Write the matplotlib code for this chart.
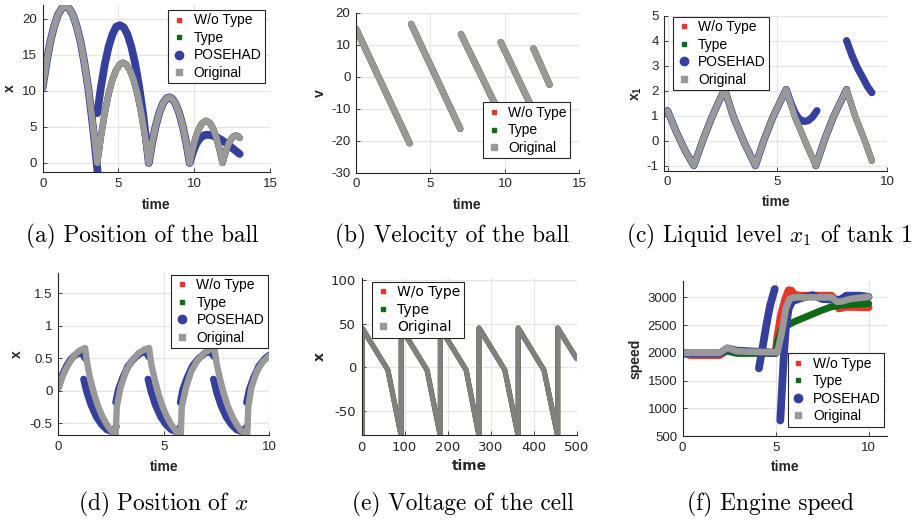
import numpy as np
import matplotlib
matplotlib.use('Agg')
import matplotlib.pyplot as plt
import matplotlib.ticker as ticker
from matplotlib.lines import Line2D

nan = np.nan

# -- (a) position of the ball
a_t_orig = [0, 0.25, 0.5, 0.75, 1.0, 1.25, 1.5, 1.75, 2.0, 2.25, 2.5, 2.75, 3.0, 3.25, 3.4, 3.6,
            3.85, 4.1, 4.35, 4.6, 4.85, 5.1, 5.3, 5.5, 5.75, 6.0, 6.25, 6.5, 6.75, 7.0,
            7.2, 7.45, 7.7, 7.95, 8.2, 8.35, 8.5, 8.75, 9.0, 9.25, 9.5, 9.7,
            9.9, 10.1, 10.3, 10.5, 10.78, 11.05, 11.25, 11.45, 11.65, 11.87,
            12.0, 12.15, 12.3, 12.45, 12.6, 12.75, 12.9, 13.0]
a_x_orig = [10.5, 13.9, 16.8, 18.9, 20.5, 21.4, 21.75, 21.4, 20.5, 18.9, 16.8, 13.9, 10.5, 6.4, 3.7, 0,
            3.8, 7.0, 9.6, 11.55, 12.9, 13.7, 13.9, 13.7, 12.9, 11.55, 9.6, 7.0, 3.8, 0,
            2.5, 5.05, 7.0, 8.3, 9.0, 9.1, 9.0, 8.3, 7.0, 5.05, 2.5, 0,
            2.0, 3.55, 4.7, 5.45, 5.85, 5.5, 4.75, 3.6, 2.05, 0,
            1.0, 2.0, 2.8, 3.35, 3.7, 3.8, 3.7, 3.5]
a_t_pose = [0, 0.25, 0.5, 0.75, 1.0, 1.25, 1.5, 1.75, 2.0, 2.25, 2.5, 2.75, 3.0, 3.25, 3.4, 3.62, nan,
            3.6, 3.85, 4.1, 4.35, 4.6, 4.85, 5.1, 5.35, 5.6, 5.85, 6.1, 6.35, 6.6, 6.85, 7.0,
            7.2, 7.45, 7.7, 7.95, 8.2, 8.35, 8.5, 8.75, 9.0, 9.25, 9.5, 9.7,
            9.9, 10.1, 10.3, 10.5, 10.7, 10.9, 11.2, 11.5, 11.8, 12.1, 12.4, 12.7, 13.0]
a_x_pose = [10.5, 13.9, 16.8, 18.9, 20.5, 21.4, 21.75, 21.4, 20.5, 18.9, 16.8, 13.9, 10.5, 6.2, 3.4, -1.2, nan,
            6.9, 10.6, 13.7, 16.1, 17.8, 18.9, 19.1, 18.8, 17.8, 16.1, 13.8, 10.8, 7.2, 2.9, 0,
            2.5, 5.05, 7.0, 8.3, 9.0, 9.1, 9.0, 8.3, 7.0, 5.05, 2.5, 0,
            1.4, 2.5, 3.2, 3.65, 3.88, 3.92, 3.8, 3.55, 3.2, 2.75, 2.25, 1.75, 1.25]

# -- (b) velocity of the ball
b_t = [0, 3.6, nan, 3.7, 7.0, nan, 7.05, 9.7, nan, 9.72, 11.9, nan, 11.92, 13.0]
b_v = [15, -20.8, nan, 16.5, -16.3, nan, 13.3, -12.0, nan, 10.8, -10.5, nan, 8.8, -2.5]

# -- (c) liquid level of tank 1
c_t_orig = [0, 0.4, 0.8, 1.2, 1.6, 2.0, 2.3, 2.6, 3.0, 3.5, 4.0, 4.4, 4.8, 5.1, 5.4,
            5.8, 6.3, 6.75, 7.15, 7.55, 7.85, 8.15, 8.55, 9.0, 9.3]
c_x_orig = [1.2, 0.35, -0.4, -1.0, 0.0, 0.9, 1.5, 2.05, 0.95, -0.1, -1.0, 0.05, 0.95, 1.5, 2.05,
            0.95, -0.1, -1.0, 0.05, 0.95, 1.5, 2.05, 0.95, -0.05, -0.8]
c_t_pose = [0, 0.4, 0.8, 1.2, 1.6, 2.0, 2.3, 2.6, 3.0, 3.5, 4.0, 4.4, 4.8, 5.1, 5.4,
            5.6, 5.8, 6.0, 6.2, 6.4, 6.6, 6.8, nan,
            6.75, 7.15, 7.55, 7.85, 8.15, nan,
            8.15, 8.4, 8.65, 8.9, 9.1, 9.3]
c_x_pose = [1.2, 0.35, -0.4, -1.0, 0.0, 0.9, 1.5, 2.05, 0.95, -0.1, -1.0, 0.05, 0.95, 1.5, 2.05,
            1.55, 1.12, 0.86, 0.77, 0.8, 0.95, 1.2, nan,
            -1.0, 0.05, 0.95, 1.5, 2.05, nan,
            4.0, 3.4, 2.9, 2.5, 2.17, 1.92]

# -- (d) position of x
d_t_orig = [0, 0.2, 0.4, 0.6, 0.8, 1.0, 1.27, 1.37, 1.5, 1.7, 1.9, 2.1, 2.3, 2.5, 2.72,
            2.77, 2.95, 3.2, 3.5, 3.8, 4.1, 4.3, 4.4, 4.55, 4.75, 4.95, 5.15, 5.35, 5.55, 5.8,
            5.85, 6.05, 6.3, 6.6, 6.9, 7.2, 7.4, 7.5, 7.65, 7.85, 8.05, 8.25, 8.45, 8.65, 8.95,
            9.0, 9.15, 9.4, 9.7, 10.0]
d_x_orig = [0.05, 0.22, 0.36, 0.47, 0.56, 0.62, 0.66, 0.42, 0.2, -0.05, -0.25, -0.4, -0.52, -0.61, -0.68,
            -0.25, 0.05, 0.3, 0.47, 0.58, 0.64, 0.66, 0.42, 0.2, -0.05, -0.25, -0.4, -0.52, -0.61, -0.68,
            -0.25, 0.05, 0.3, 0.47, 0.58, 0.64, 0.66, 0.42, 0.2, -0.05, -0.25, -0.4, -0.52, -0.61, -0.68,
            -0.25, 0.05, 0.3, 0.45, 0.54]
d_t_pose = [0, 0.2, 0.4, 0.6, 0.8, 1.0, 1.15, 1.27, nan,
            1.2, 1.35, 1.55, 1.8, 2.05, 2.3, 2.55, 2.75, nan,
            2.72, 2.85, 3.05, 3.3, 3.6, 3.9, 4.15, 4.3, nan,
            4.25, 4.4, 4.6, 4.85, 5.1, 5.35, 5.6, 5.8, nan,
            5.78, 5.9, 6.1, 6.35, 6.65, 6.95, 7.2, 7.4, nan,
            7.35, 7.5, 7.7, 7.95, 8.2, 8.45, 8.7, 8.95, nan,
            8.92, 9.05, 9.25, 9.5, 9.8, 10.0]
d_x_pose = [0.05, 0.25, 0.39, 0.49, 0.55, 0.58, 0.57, 0.5, nan,
            0.18, -0.02, -0.22, -0.4, -0.52, -0.6, -0.63, -0.55, nan,
            -0.18, 0.02, 0.2, 0.38, 0.5, 0.58, 0.6, 0.52, nan,
            0.18, -0.02, -0.22, -0.4, -0.52, -0.6, -0.63, -0.55, nan,
            -0.18, 0.02, 0.2, 0.38, 0.5, 0.58, 0.6, 0.52, nan,
            0.18, -0.02, -0.22, -0.4, -0.52, -0.6, -0.63, -0.55, nan,
            -0.18, 0.02, 0.2, 0.38, 0.5, 0.55]

# -- (e) voltage of the cell
e_t = [1, 1, 61, 91, 92, 92, 152, 182, 183, 183, 243, 272, 273, 273, 333, 363,
       364, 364, 424, 455, 456, 456, 500]
e_x = [-76, 45, -3, -76, -76, 45, -3, -76, -76, 45, -3, -76, -76, 45, -3, -76,
       -76, 45, -3, -76, -76, 45, 10]

# -- (f) engine speed
f_t_orig = [0, 2.0, 2.4, 2.9, 3.5, 5.1, 5.35, 5.55, 5.75, 6.0, 8.0, 8.3, 8.6, 9.0, 10.0]
f_s_orig = [2000, 2000, 2090, 2030, 2020, 2010, 2400, 2800, 2970, 3000, 3000, 2920, 2930, 2970, 3010]
f_t_wo = [0, 0.4, 2.0, 2.4, 2.9, 3.5, 5.0, 5.1, 5.3, 5.5, 5.7, 5.85, 6.0, 6.3, 7.0, 8.0, 8.2, 8.4, 8.8, 10.0]
f_s_wo = [2000, 1960, 1960, 2060, 2020, 2010, 2000, 2300, 2700, 2950, 3130, 3120, 3050, 3030, 3030, 3030,
          2950, 2800, 2830, 2820]
f_t_type = [0, 2.0, 2.4, 2.9, 5.0, 5.1, 5.3, 5.5, 6.0, 6.5, 7.0, 7.5, 8.0, 8.5, 9.0, 10.0]
f_s_type = [1990, 1990, 2030, 1990, 1990, 2200, 2400, 2470, 2560, 2630, 2700, 2770, 2830, 2860, 2870, 2890]
f_t_pose = [0, 2.0, 2.4, 2.9, 3.5, 5.0, nan,
            4.1, 4.3, 4.5, 4.7, 4.95, nan,
            5.25, 5.35, 5.45, 5.55, 5.7, 5.9, 6.3, 7.0, 7.5, 8.0, 8.5, 8.8, 9.5, 10.0]
f_s_pose = [1990, 1990, 2080, 2040, 2030, 2000, nan,
            1720, 2100, 2500, 2850, 3150, nan,
            780, 1400, 2000, 2450, 2800, 2930, 2980, 3040, 2970, 2960, 2960, 3030, 3030, 3010]

RED = '#e3382b'
GREEN = '#0c6b14'
BLUE = '#34409c'
GRAY = '#999999'
AXC = '#262626'

plt.rcParams['font.family'] = 'Liberation Sans'
plt.rcParams['axes.unicode_minus'] = False
plt.rcParams['mathtext.fontset'] = 'custom'
plt.rcParams['mathtext.rm'] = 'cmr10'
plt.rcParams['mathtext.it'] = 'cmmi10'
plt.rcParams['mathtext.bf'] = 'Liberation Sans:bold'

fig = plt.figure(figsize=(9.24, 5.21), dpi=100)


def style_axes(ax, xlim, ylim, xticks, yticks, ylabel, ylab_x, family='Liberation Sans'):
    ax.set_xlim(*xlim)
    ax.set_ylim(*ylim)
    ax.set_xticks(xticks)
    ax.set_yticks(yticks)
    ax.xaxis.set_major_formatter(ticker.FuncFormatter(lambda v, _: '{:g}'.format(v)))
    ax.yaxis.set_major_formatter(ticker.FuncFormatter(lambda v, _: '{:g}'.format(v)))
    ax.grid(True, color='#e6e6e6', lw=0.9)
    ax.set_axisbelow(True)
    for s in ['top', 'right']:
        ax.spines[s].set_visible(False)
    for s in ['left', 'bottom']:
        ax.spines[s].set_color(AXC)
        ax.spines[s].set_linewidth(0.8)
    ax.tick_params(direction='in', length=3, width=0.6, color=AXC, labelcolor=AXC, labelsize=9.5, pad=4)
    for lab in ax.get_xticklabels() + ax.get_yticklabels():
        lab.set_family(family)
    ax.set_xlabel('time', fontsize=10, fontweight='bold', family=family, color=AXC)
    ax.set_ylabel(ylabel, fontsize=10, fontweight='bold', family=family, color=AXC)
    ax.xaxis.set_label_coords(0.5, -0.2)
    ax.xaxis.label.set_va('center')
    ax.yaxis.set_label_coords(ylab_x, 0.5)
    ax.yaxis.label.set_va('center')


def add_legend(ax, with_pose, loc, anchor, family='Liberation Sans', size=10):
    handles = [Line2D([], [], ls='none', marker='s', ms=3, color=RED, label='W/o Type'),
               Line2D([], [], ls='none', marker='s', ms=3, color=GREEN, label='Type')]
    if with_pose:
        handles.append(Line2D([], [], ls='none', marker='o', ms=6, color=BLUE, label='POSEHAD'))
    handles.append(Line2D([], [], ls='none', marker='s', ms=4, color=GRAY, label='Original'))
    leg = ax.legend(handles=handles, loc=loc, bbox_to_anchor=anchor, fancybox=False, framealpha=1,
                    edgecolor=AXC, handlelength=1.08, handletextpad=0.5, labelspacing=0.25,
                    borderpad=0.25, borderaxespad=0, prop={'family': family, 'size': size})
    leg.get_frame().set_linewidth(0.8)
    leg.set_zorder(10)


def draw(ax, t, y, color, lw):
    ax.plot(t, y, color=color, lw=lw, solid_capstyle='round', solid_joinstyle='round')


# -- (a)
ax = fig.add_axes([0.0462, 0.6699, 0.2460, 0.3205])
draw(ax, a_t_orig, a_x_orig, RED, 4.6)
draw(ax, a_t_orig, a_x_orig, GREEN, 4.6)
draw(ax, a_t_pose, a_x_pose, BLUE, 5.6)
draw(ax, a_t_orig, a_x_orig, GRAY, 4.6)
style_axes(ax, (0, 15), (-1.25, 21.9), [0, 5, 10, 15], [0, 5, 10, 15, 20], 'x', -0.144)
add_legend(ax, True, 'upper right', (0.978, 0.97))

# -- (b)
ax = fig.add_axes([0.3853, 0.6685, 0.2417, 0.3071])
draw(ax, b_t, b_v, RED, 4.6)
draw(ax, b_t, b_v, GREEN, 4.6)
draw(ax, b_t, b_v, GRAY, 4.6)
style_axes(ax, (0, 15), (-30, 20), [0, 5, 10, 15], [-30, -20, -10, 0, 10, 20], 'v', -0.161)
add_legend(ax, False, 'lower right', (0.958, 0.09))

# -- (c)
ax = fig.add_axes([0.7189, 0.6724, 0.2413, 0.2975])
draw(ax, c_t_orig, c_x_orig, RED, 4.4)
draw(ax, c_t_orig, c_x_orig, GREEN, 4.4)
draw(ax, c_t_pose, c_x_pose, BLUE, 5.2)
draw(ax, c_t_orig, c_x_orig, GRAY, 4.4)
style_axes(ax, (-0.15, 10), (-1.2, 5), [0, 5, 10], [-1, 0, 1, 2, 3, 4, 5], r'$\mathbf{x_1}$', -0.122)
add_legend(ax, True, 'upper left', (0.038, 0.994))

# -- (d)
ax = fig.add_axes([0.0631, 0.1651, 0.2284, 0.3104])
draw(ax, d_t_orig, d_x_orig, RED, 1.5)
draw(ax, d_t_orig, d_x_orig, GREEN, 1.5)
draw(ax, d_t_pose, d_x_pose, BLUE, 5.0)
draw(ax, d_t_orig, d_x_orig, GRAY, 4.6)
style_axes(ax, (0, 10), (-0.68, 1.81), [0, 5, 10], [-0.5, 0, 0.5, 1, 1.5], 'x', -0.196)
add_legend(ax, True, 'upper right', (0.992, 0.99))

# -- (e)
ax = fig.add_axes([0.3914, 0.1651, 0.2327, 0.3013])
draw(ax, e_t, e_x, RED, 3.6)
draw(ax, e_t, e_x, GREEN, 3.6)
draw(ax, e_t, e_x, '#808080', 3.6)
style_axes(ax, (0, 500), (-77, 102), [0, 100, 200, 300, 400, 500], [-50, 0, 50, 100], 'x', -0.194,
           family='DejaVu Sans')
add_legend(ax, False, 'upper left', (0.047, 0.976), family='DejaVu Sans', size=10)

# -- (f)
ax = fig.add_axes([0.7388, 0.1631, 0.2214, 0.2981])
draw(ax, f_t_wo, f_s_wo, RED, 5.6)
draw(ax, f_t_type, f_s_type, GREEN, 5.0)
draw(ax, f_t_pose, f_s_pose, BLUE, 5.6)
draw(ax, f_t_orig, f_s_orig, GRAY, 4.8)
style_axes(ax, (0, 11), (500, 3300), [0, 5, 10], [500, 1000, 1500, 2000, 2500, 3000], 'speed', -0.228)
add_legend(ax, True, 'lower right', (0.985, 0.06))

# -- captions
cap = dict(family='cmr10', size=16.8, ha='center', va='center', color='black')
fig.text(142.5 / 924, 1 - 236 / 521, '(a) Position of the ball', **cap)
fig.text(452 / 924, 1 - 236 / 521, '(b) Velocity of the ball', **cap)
cap_c = dict(cap, ha='right')
fig.text(912 / 924, 1 - 236 / 521, r'(c) Liquid level $x_1$ of tank 1', **cap_c)
fig.text(163 / 924, 1 - 504 / 521, r'(d) Position of $x$', **cap)
fig.text(462.5 / 924, 1 - 504 / 521, '(e) Voltage of the cell', **cap)
fig.text(770 / 924, 1 - 504 / 521, '(f) Engine speed', **cap)

fig.savefig('out.png', dpi=100)
